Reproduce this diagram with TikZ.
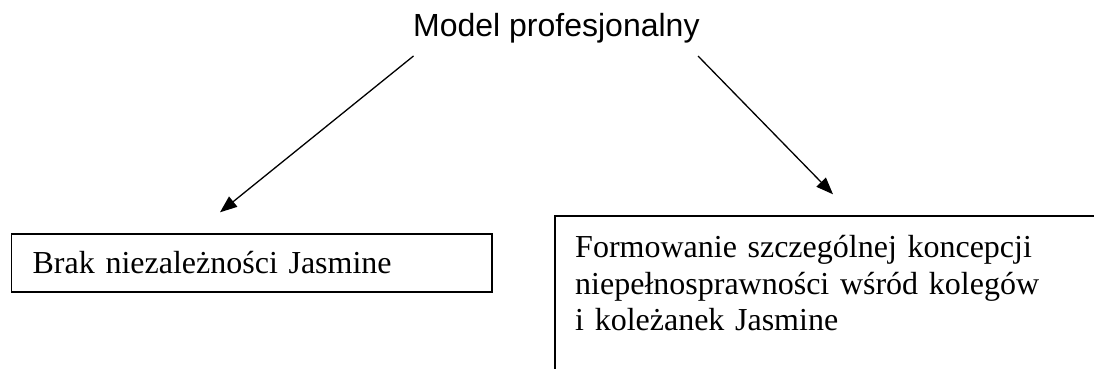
\documentclass[tikz,border=0pt]{standalone}
\usepackage{fontspec}
\setmainfont{Liberation Serif}
\newfontfamily\arialfont{Liberation Sans}
\usetikzlibrary{arrows.meta}
\begin{document}
\begin{tikzpicture}[x=1pt,y=-1pt,
  every node/.style={font=\fontsize{32}{36.8}\selectfont},
  titlestyle/.style={font=\arialfont\fontsize{32}{36.8}\selectfont, inner sep=0pt, anchor=base west},
  boxline/.style={draw=black, line width=1.8pt},
  boxstyle/.style={boxline, anchor=north west, align=left},
  conn/.style={line width=1.3pt, -{Triangle[length=17pt,width=13pt]}}]
\path[use as bounding box, fill=white] (0,0) rectangle (1094,369);
\node[titlestyle] (title) at (413,36.7) {Model profesjonalny};
\node[boxstyle, minimum width=480.5pt, minimum height=58.3pt, text width=438pt,
      inner xsep=21pt, inner ysep=0pt, text height=26.7pt, text depth=5pt]
  (left) at (10.5,232.7) {Brak niezależności Jasmine};
\node[anchor=north west, align=left, text width=500pt, inner sep=0pt]
  (right) at (575,234.8) {Formowanie szczególnej koncepcji\\ niepełnosprawności wśród kolegów\\ i koleżanek Jasmine};
\begin{scope}
\clip (0,0) rectangle (1094,369);
\draw[boxline, overlay] ([xshift=-20pt,yshift=-250pt]right.north west) |- ([xshift=200pt,yshift=18.8pt]right.north east);
\end{scope}
\coordinate (ls) at (413.5,56);
\coordinate (le) at (220,212.3);
\coordinate (rs) at (698,56);
\coordinate (re) at (833,194.3);
\draw[conn] (ls) -- (le);
\draw[conn] (rs) -- (re);
\end{tikzpicture}
\end{document}
